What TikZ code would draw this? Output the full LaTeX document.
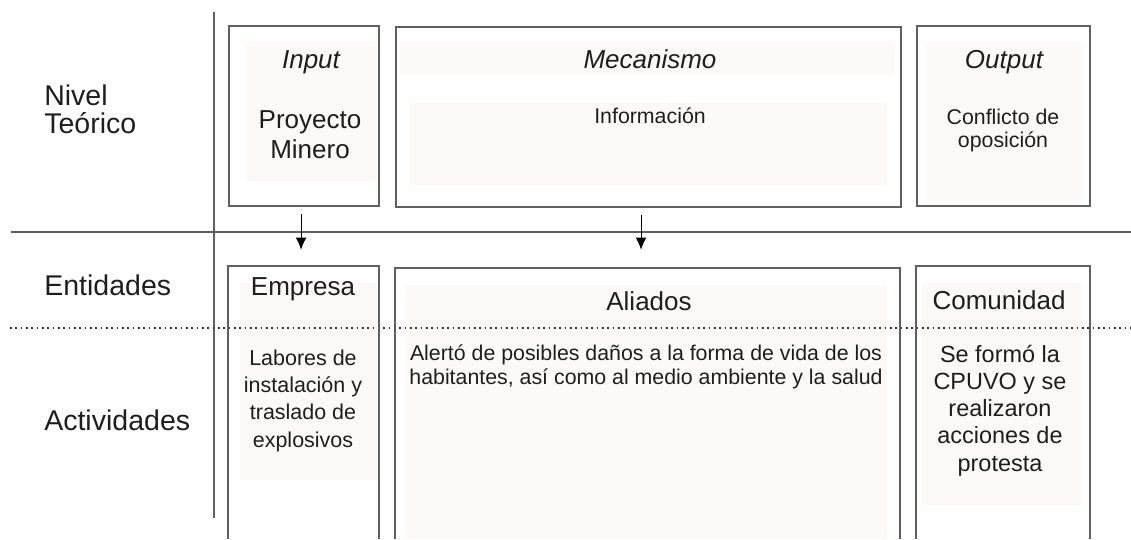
\documentclass[tikz,border=0pt]{standalone}
\usepackage{fontspec}
\setmainfont{Liberation Sans}
\usetikzlibrary{arrows.meta, positioning, fit}
\definecolor{blush}{HTML}{FDF9F7}
\definecolor{rule}{HTML}{606060}
\definecolor{ink}{HTML}{1E1E1E}
\tikzstyle{box} = [draw=rule, line width=1.2pt, rectangle, inner sep=0pt]
\tikzstyle{openbox} = [rectangle, inner sep=0pt]
\tikzstyle{edge} = [draw=rule, line width=1.2pt]
\tikzstyle{flow} = [draw=black, line width=0.8pt, ->]
\tikzstyle{level} = [font=\fontsize{21.4}{21}\selectfont, text=ink,
    align=left, anchor=base west, inner sep=0pt]
\tikzstyle{title} = [font=\fontsize{19.5}{22.5}\selectfont\itshape, text=ink,
    anchor=base, inner sep=0pt]
\tikzstyle{head} = [font=\fontsize{19.5}{22.5}\selectfont, text=ink,
    align=center, anchor=base, inner sep=0pt]
\tikzstyle{note} = [font=\fontsize{16}{18}\selectfont, text=ink,
    align=center, anchor=base, inner sep=0pt]

\begin{document}
\begin{tikzpicture}[x=0.75pt, y=-0.75pt, >={Latex[length=9pt,width=8pt]}]
    \useasboundingbox (0,0) rectangle (1131,539);
    % soft backgrounds
    \fill[blush] (246,42) rectangle (376,181);
    \fill[blush] (400,42) rectangle (895,76);
    \fill[blush] (410,103) rectangle (887,185);
    \fill[blush] (926,42) rectangle (1084,202);
    \fill[blush] (240,283) rectangle (377,480);
    \fill[blush] (405,285) rectangle (887,539);
    \fill[blush] (922,283) rectangle (1082,505);

    % grid
    \coordinate (vtop) at (214,12);
    \coordinate (vbot) at (214,518);
    \coordinate (hleft) at (11,232);
    \coordinate (hright) at (1131,232);
    \coordinate (dleft) at (10,328);
    \coordinate (dright) at (1131,328);
    \draw [edge] (vtop) -- (vbot);
    \draw [edge] (hleft) -- (hright);
    \draw [draw=black!80, line width=1.1pt, dash pattern=on 1.2pt off 2.8pt] (dleft) -- (dright);

    % boxes
    \node [box, fit={(229,26) (379,206)}] (input) {};
    \node [box, fit={(396,27) (901,207)}] (mecanismo) {};
    \node [box, fit={(917,26) (1090,206)}] (output) {};
    \node [openbox, fit={(228,266) (379,539)}] (empresa) {};
    \node [openbox, fit={(395,268) (900,539)}] (aliados) {};
    \node [openbox, fit={(916,266) (1090,539)}] (comunidad) {};
    \foreach \b in {empresa, aliados, comunidad}
        \draw [edge] (\b.south west) |- (\b.north east) -- (\b.south east);

    % texts (multi-line nodes sit on their last baseline)
    \node [level] (nivel) at (44,133) {Nivel\\Teórico};
    \node [level] (entidades) at (44,295) {Entidades};
    \node [level] (actividades) at (44,430) {Actividades};
    \node [title] (inputT) at (311,68) {Input};
    \node [head] (proyecto) at (310,158) {Proyecto\\Minero};
    \node [title] (mecT) at (650,68) {Mecanismo};
    \node [note] (info) at (650,123) {Información};
    \node [title] (outT) at (1004,68) {Output};
    \node [note, font=\fontsize{16}{17.25}\selectfont] (conflicto) at (1003,147) {Conflicto de\\oposición};
    \node [head] (empT) at (303,295) {Empresa};
    \node [head] (aliT) at (649,310) {Aliados};
    \node [head] (comT) at (999,309) {Comunidad};
    \node [note, font=\fontsize{16.1}{20.5}\selectfont] (labores) at (303,447)
        {Labores de\\instalación y\\traslado de\\explosivos};
    \node [note] (alerto) at (646,384)
        {Alertó de posibles daños a la forma de vida de los\\habitantes, así como al medio ambiente y la salud};
    \node [note, font=\fontsize{17.6}{20.4}\selectfont] (cpuvo) at (1000,471)
        {Se formó la\\CPUVO y se\\realizaron\\acciones de\\protesta};

    % arrows
    \draw [flow, shorten <=5.25pt, shorten >=12pt]
        ([xshift=-2.2pt]input.south) -- ([xshift=-2.2pt]input.south |- empresa.north);
    \draw [flow, shorten <=5.25pt, shorten >=13.5pt]
        ([xshift=-5.6pt]mecanismo.south) -- ([xshift=-5.6pt]mecanismo.south |- aliados.north);
\end{tikzpicture}
\end{document}
